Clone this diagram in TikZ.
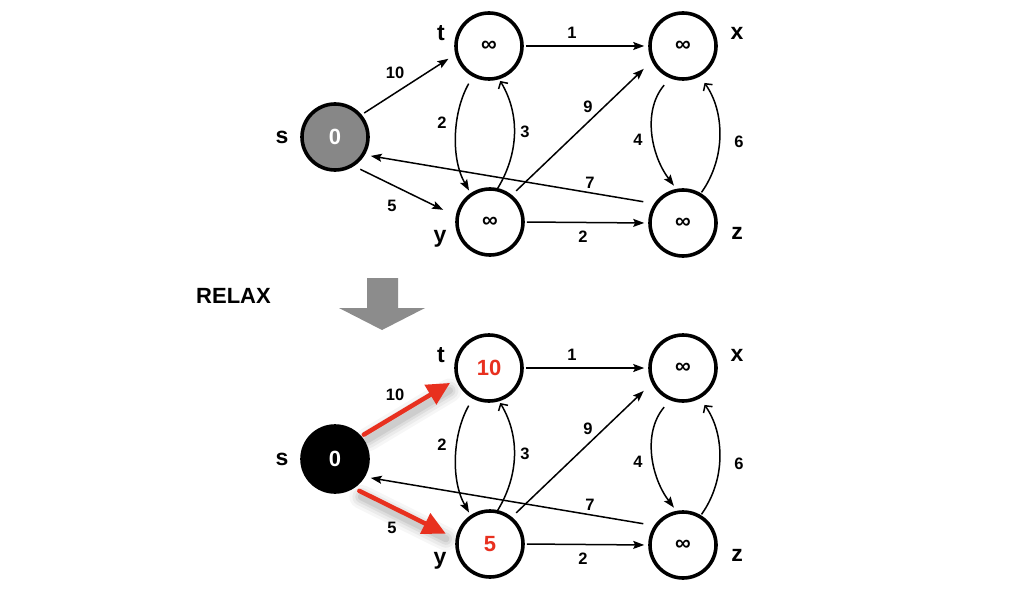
\documentclass[tikz,border=0pt]{standalone}
\usepackage{fontspec}
\setmainfont{Liberation Sans}
\usetikzlibrary{arrows.meta}
\definecolor{relaxred}{HTML}{E8301F}
\definecolor{sgray}{HTML}{878787}
\definecolor{biggray}{HTML}{8C8C8C}
\tikzset{
  vtx/.style={circle, draw, line width=3.6pt, minimum size=66pt, inner sep=0pt,
    outer sep=1.8pt, fill=white, font=\bfseries\fontsize{22}{22}\selectfont},
  vname/.style={font=\bfseries\fontsize{23}{23}\selectfont, inner sep=0pt},
  elbl/.style={font=\bfseries\fontsize{16.5}{16.5}\selectfont, inner sep=0pt},
  edge/.style={line width=1.5pt, -{Stealth[length=11pt,width=8pt,inset=2pt]}},
  oedge/.style={line width=1.5pt, -{Straight Barb[length=5pt,width=11pt]}},
  redge/.style={relaxred, line width=4.5pt, line cap=round,
    -{Triangle[length=23pt,width=22pt]}},
  rshadow/.style={black, line cap=round},
}
\newcommand\mygraph[5]{%
  \node[vtx,#2] (#1s) at (335,137) {0};
  \node[vtx,text=#5] (#1t) at (489,46) {#3};
  \node[vtx] (#1x) at (683,46) {∞};
  \node[vtx,text=#5] (#1y) at (490,222) {#4};
  \node[vtx] (#1z) at (683,223) {∞};
  \node[vname] (#1sn) at (282,137) {s};
  \node[vname] (#1tn) at (441,33) {t};
  \node[vname] (#1xn) at (737,33) {x};
  \node[vname] (#1yn) at (440,239) {y};
  \node[vname] (#1zn) at (737,233) {z};
  \draw[edge, shorten <=2pt, shorten >=4pt] (#1t.east) -- (#1x.west);
  \draw[edge, shorten <=2pt, shorten >=4pt] (#1y.east) -- (#1z.west);
  \draw[edge, shorten <=6pt, shorten >=11pt] (#1y.51) -- (#1x.-154);
  \draw[edge, shorten <=11pt, shorten >=6pt] (#1z.146) -- (#1s.-31);
  \draw[edge, shorten <=8pt, shorten >=3pt] (#1t.-118) .. controls +(-20,35) and +(-20,-35) .. (#1y.124);
  \draw[oedge, shorten <=0pt, shorten >=2pt] (#1y.77) .. controls +(21,-35) and +(21,35) .. (#1t.-73);
  \draw[edge, shorten <=9pt, shorten >=4pt] (#1x.-112) .. controls +(-28,33) and +(-25,-33) .. (#1z.101);
  \draw[oedge, shorten <=1pt, shorten >=8pt] (#1z.59) .. controls +(25,-35) and +(25,35) .. (#1x.-61);
  \node[elbl] (#1l1) at (572,33) {1};
  \node[elbl] (#1l9) at (588,107) {9};
  \node[elbl] (#1l7) at (590,183) {7};
  \node[elbl] (#1l2b) at (583,237) {2};
  \node[elbl] (#1l2) at (442,123) {2};
  \node[elbl] (#1l3) at (525,132) {3};
  \node[elbl] (#1l4) at (638,140) {4};
  \node[elbl] (#1l6) at (739,142) {6};
  \node[elbl] (#1l10) at (395,73) {10};
  \node[elbl] (#1l5) at (392,206) {5};
}
\begin{document}
\begin{tikzpicture}[x=1pt,y=-1pt]
\useasboundingbox[fill=white] (0,0) rectangle (1024,596);
% top graph
\mygraph{a}{fill=sgray,text=white}{∞}{∞}{black}
\draw[edge, shorten <=3pt, shorten >=8pt] (as.40) -- (at.-166);
\draw[edge, shorten <=7pt, shorten >=14pt] (as.-57) -- (ay.170);
% relax marker
\node[font=\bfseries\fontsize{22}{22}\selectfont, inner sep=0pt] (relax) at (233.5,296) {RELAX};
\fill[biggray] (367,278) -- (398,278) -- (398,308) -- (425,308) -- (382,330)
  -- (339,308) -- (367,308) -- cycle;
% bottom graph
\begin{scope}[shift={(0,322)}]
\mygraph{b}{fill=black,text=white}{10}{5}{relaxred}
\foreach \w/\o in {24/0.035,18/0.045,12/0.06,7/0.07} {
  \draw[rshadow, line width=\w pt, opacity=\o, shorten <=5pt, shorten >=10pt]
    ([shift={(2,6)}]bs.41) -- ([shift={(2,6)}]bt.-161);
  \draw[rshadow, line width=\w pt, opacity=\o, shorten <=6pt, shorten >=13pt]
    ([shift={(2,6)}]bs.-57) -- ([shift={(2,6)}]by.171);
}
\draw[redge, shorten <=3pt, shorten >=7pt] (bs.41) -- (bt.-161);
\draw[redge, shorten <=6pt, shorten >=11pt] (bs.-57) -- (by.171);
\end{scope}
\end{tikzpicture}
\end{document}
